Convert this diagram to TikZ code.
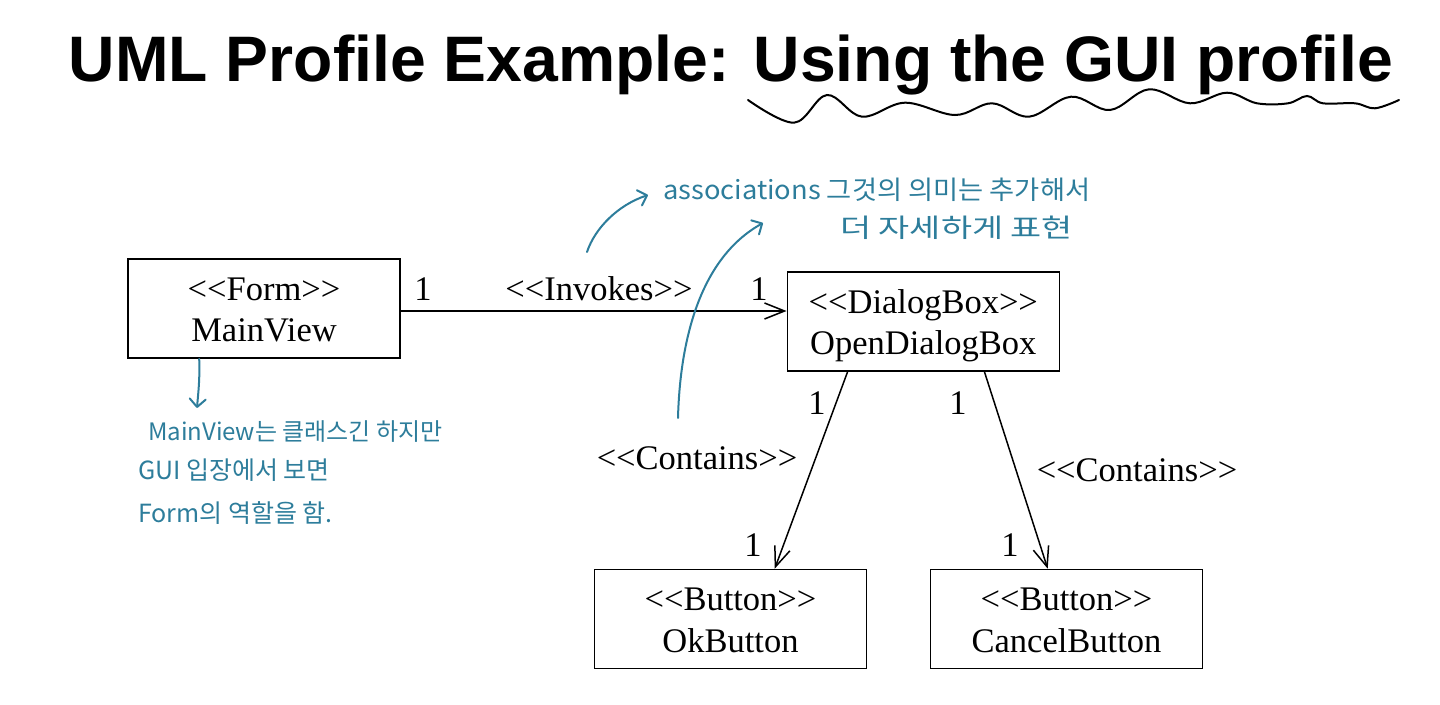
\documentclass[tikz,border=0pt]{standalone}
\usepackage{fontspec}
\setmainfont{Liberation Serif}
\newfontfamily\titlefont{Liberation Sans}
\newfontfamily\handfont{Noto Sans CJK KR}
\usetikzlibrary{arrows.meta,calc}
\definecolor{ink}{RGB}{45,125,155}

% stereotype guillemets written as two separate angle brackets
\newcommand\stereo[1]{<\kern0pt<#1>\kern0pt>}
% a UML class box: name, x, y, stereotype, class name
\newcommand\umlclass[5]{%
  \node[umlbox] (#1) at (#2,#3) {};
  \node[boxtext] (#1-st) at ([yshift=8.5pt]#1.center) {\stereo{#4}};
  \node[boxtext] (#1-nm) at ([yshift=-33pt]#1.center) {#5};
}

\begin{document}
\begin{tikzpicture}[x=1pt,y=-1pt,
  umlbox/.style={draw, line width=1.6pt, minimum width=272pt, minimum height=99pt, inner sep=0pt},
  boxtext/.style={anchor=base, font=\fontsize{34.5}{40}\selectfont, inner sep=0pt},
  lbl/.style={anchor=base, font=\fontsize{34.5}{40}\selectfont, inner sep=0pt},
  assoc/.style={line width=1.5pt, -{Straight Barb[length=20pt,width=16pt,line width=1.5pt]}},
  note/.style={anchor=west, text=ink, font=\handfont\fontsize{25}{30}\selectfont, inner sep=0pt},
  pen/.style={draw=ink, line width=2pt, line cap=round, line join=round},
  pentip/.style={-{Straight Barb[length=8pt,width=16pt,line width=2pt,round]}},
]
\useasboundingbox (0,0) rectangle (1440,704);

% heading with a hand-drawn wavy underline
\node[anchor=base, inner sep=0pt] (title) at (731,81.7)
  {\titlefont\bfseries\fontsize{64.3}{70}\selectfont UML Profile Example: Using the GUI profile};
\draw[line width=2pt, line cap=round] plot[smooth, tension=0.6] coordinates {
  (748,100) (794,122.7) (827,95) (862,116.7) (905,102.7) (955,115) (992,103.3)
  (1029,116.7) (1071,96.7) (1110,110) (1149,89.3) (1190,103.3) (1227,92.7)
  (1257,103.3) (1288,103.3) (1307,96) (1323,103.3) (1355,103.3) (1375,108.3) (1399,100)};

% classes
\umlclass{mv}{264}{308.5}{Form}{MainView}
\umlclass{odb}{923.3}{321.7}{DialogBox}{OpenDialogBox}
\umlclass{ok}{730.5}{619}{Button}{OkButton}
\umlclass{cb}{1066.5}{619}{Button}{CancelButton}

% associations
\draw[assoc] ([yshift=-2.5pt]mv.east) -- ([yshift=-2.5pt]mv.east -| odb.west);
\draw[assoc] ([xshift=61pt]odb.south west) -- ([xshift=181pt]ok.north west);
\draw[assoc] ([xshift=198pt]odb.south west) -- ([xshift=118pt]cb.north west);

% multiplicities and stereotypes of the associations
\node[lbl] (m1) at (423,300) {1};
\node[lbl] (inv) at (599,300) {\stereo{Invokes}};
\node[lbl] (m2) at (759,300) {1};
\node[lbl] (m3) at (817,414) {1};
\node[lbl] (m4) at (958,414) {1};
\node[lbl] (m5) at (753,556) {1};
\node[lbl] (m6) at (1010,556) {1};
\node[lbl] (con1) at (697,469.5) {\stereo{Contains}};
\node[lbl] (con2) at (1137,481.7) {\stereo{Contains}};

% handwritten remarks
\node[note] (n1) at (663,190) {\scalebox{1.05}[1]{\fontsize{26}{30}\selectfont associations 그것의 의미는 추가해서}};
\node[note] (n2) at (840,228) {\scalebox{1.3}[1]{\fontsize{26}{30}\selectfont 더 자세하게 표현}};
\coordinate (pa) at (587,252);
\coordinate (pb) at (648,195);
\draw[pen, pentip] (pa) .. controls (595,228) and (618,205) .. (pb);
\coordinate (pc) at (678,418);
\coordinate (pd) at (763,223);
\draw[pen, pentip] (pc) .. controls (680,340) and (700,258) .. (pd);

\node[note] (n3) at (148,432) {\fontsize{24}{30}\selectfont MainView는 클래스긴 하지만};
\node[note] (n4) at (138,470) {GUI 입장에서 보면};
\node[note] (n5) at (138,513) {Form의 역할을 함.};
\coordinate (pe) at (197,408);
\draw[pen, pentip] ([xshift=72pt]mv.south west) .. controls (200,380) and (198,395) .. (pe);
\end{tikzpicture}
\end{document}
